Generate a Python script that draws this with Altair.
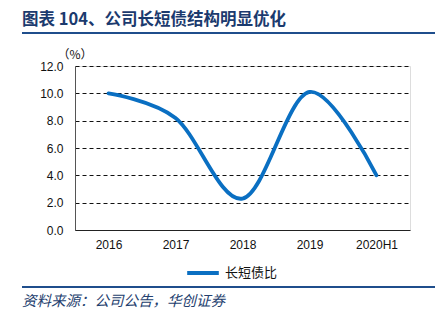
import altair as alt
import pandas as pd

categories = ["2016", "2017", "2018", "2019", "2020H1"]
values = [10.0, 8.2, 2.3, 10.1, 4.0]
series_name = "长短债比"
y_ticks = [0, 2, 4, 6, 8, 10, 12]

title_text = "图表 104、公司长短债结构明显优化"
source_text = "资料来源：公司公告，华创证券"
unit_text = "（%）"

df = pd.DataFrame({"year": categories, "value": values, "series": series_name})

line = alt.Chart(df).mark_line(
    interpolate="cardinal", strokeWidth=3.8, strokeCap="round"
).encode(
    x=alt.X("year:O", sort=categories, title=None,
            scale=alt.Scale(type="point", padding=0.5),
            axis=alt.Axis(labelAngle=0, ticks=False, labelPadding=9,
                          domainColor="#222", labelFontSize=12,
                          labelFont="Liberation Sans", labelColor="#111")),
    y=alt.Y("value:Q", title=None,
            scale=alt.Scale(domain=[0, 12], nice=False),
            axis=alt.Axis(values=y_ticks, format=".1f", ticks=False,
                          labelPadding=12, domainColor="#555",
                          grid=True, gridDash=[4, 3], gridColor="#111",
                          gridWidth=1, labelFontSize=12,
                          labelFont="Liberation Sans", labelColor="#111")),
    color=alt.Color("series:N", title=None,
                    scale=alt.Scale(range=["#0a6fc2"]),
                    legend=alt.Legend(orient="none", legendX=110, legendY=189,
                                      symbolType="stroke", symbolStrokeWidth=4,
                                      symbolSize=1000, labelFontSize=13,
                                      labelFont="Noto Sans CJK SC",
                                      labelColor="#111", labelOffset=4)),
)

one = pd.DataFrame({"t": [0]})

title = alt.Chart(one).mark_text(
    align="left", baseline="middle", fontSize=16.5, fontWeight="bold",
    font="Noto Sans CJK SC", color="#1b3a6e"
).encode(x=alt.value(-53), y=alt.value(-46), text=alt.value(title_text))

unit = alt.Chart(one).mark_text(
    align="center", baseline="middle", fontSize=12,
    font="Noto Sans CJK SC", color="#111"
).encode(x=alt.value(0), y=alt.value(-11), text=alt.value(unit_text))

source = alt.Chart(one).mark_text(
    align="left", baseline="middle", fontSize=14.5, fontStyle="italic",
    font="Noto Sans CJK SC", color="#24406e"
).encode(x=alt.value(-53), y=alt.value(236), text=alt.value(source_text))

rule_top = alt.Chart(one).mark_rule(color="#1f4e8c", strokeWidth=2).encode(
    x=alt.value(-53), x2=alt.value(360), y=alt.value(-33))
rule_bot = alt.Chart(one).mark_rule(color="#1f4e8c", strokeWidth=2).encode(
    x=alt.value(-53), x2=alt.value(360), y=alt.value(221))

chart = alt.layer(line, title, unit, source, rule_top, rule_bot).properties(
    width=335, height=164,
    autosize=alt.AutoSizeParams(type="none"),
    padding={"left": 75, "top": 66, "right": 35, "bottom": 91},
).configure_view(stroke=None).configure(background="white")

chart.save("out.html", embed_options={"renderer": "svg", "actions": False})
